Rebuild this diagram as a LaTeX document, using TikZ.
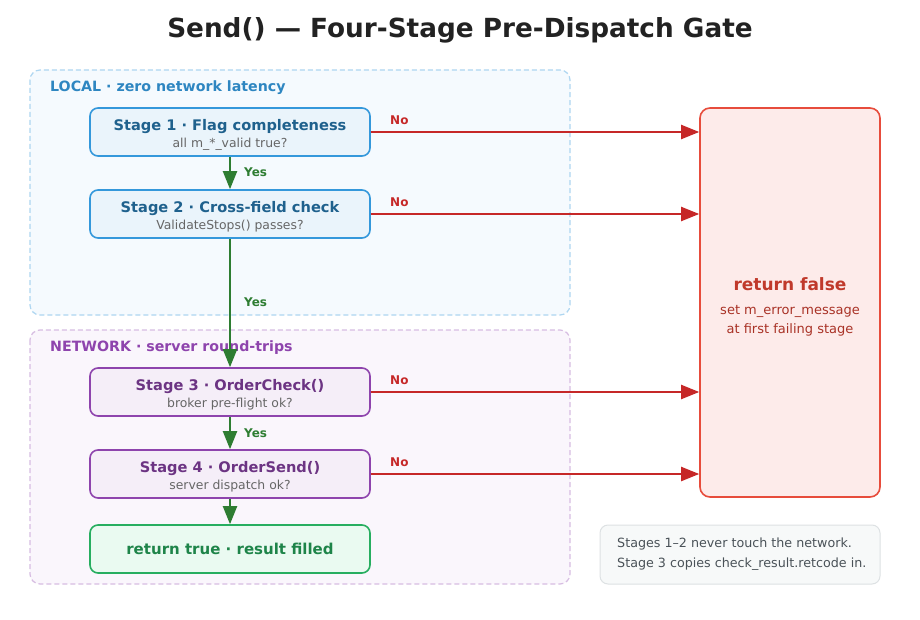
\documentclass[tikz,border=0pt]{standalone}
\usepackage{fontspec}
\setmainfont{DejaVu Sans}
\usetikzlibrary{arrows.meta}
\definecolor{lgborder}{HTML}{AED6F1}
\definecolor{lgfill}{HTML}{F5FAFE}
\definecolor{ngborder}{HTML}{D7BDE2}
\definecolor{ngfill}{HTML}{FAF6FC}
\definecolor{bluestroke}{HTML}{3498DB}
\definecolor{bluefill}{HTML}{EAF4FB}
\definecolor{bluetext}{HTML}{1F618D}
\definecolor{bluelabel}{HTML}{2E86C1}
\definecolor{purstroke}{HTML}{8E44AD}
\definecolor{purfill}{HTML}{F5EEF8}
\definecolor{purtext}{HTML}{6C3483}
\definecolor{greenstroke}{HTML}{27AE60}
\definecolor{greenfill}{HTML}{EAFAF1}
\definecolor{greentext}{HTML}{1E8449}
\definecolor{redstroke}{HTML}{E74C3C}
\definecolor{redfill}{HTML}{FDEBEA}
\definecolor{redtext}{HTML}{C0392B}
\definecolor{redsub}{HTML}{A93226}
\definecolor{arrred}{HTML}{C62828}
\definecolor{arrgreen}{HTML}{2E7D32}
\definecolor{subgray}{HTML}{666666}
\definecolor{notefill}{HTML}{F7F9F9}
\definecolor{noteborder}{HTML}{DDE1E3}
\definecolor{notetext}{HTML}{4A5258}
\definecolor{titlecol}{HTML}{222222}
\newcommand{\fs}[1]{\fontsize{#1}{#1}\selectfont}
\tikzset{
  group/.style={draw, dashed, dash pattern=on 5pt off 3pt, line width=1.2pt, rounded corners=10pt},
  stagebox/.style={draw, line width=1.6pt, rounded corners=8pt, minimum width=280pt, minimum height=48pt, inner sep=0pt, align=center},
  yesarrow/.style={draw=arrgreen, line width=2pt, -{Triangle[length=18pt,width=14pt]}},
  noarrow/.style={draw=arrred, line width=2pt, -{Triangle[length=18pt,width=14pt]}},
  yeslabel/.style={text=arrgreen, font=\bfseries\fs{12}, anchor=west, inner sep=0pt},
  nolabel/.style={text=arrred, font=\bfseries\fs{12}, anchor=west, inner sep=0pt},
  stitle/.style={font=\bfseries\fs{14.6}},
  ssub/.style={font=\fs{12.4}, text=subgray},
}
\begin{document}
\begin{tikzpicture}[x=1pt,y=-1pt]
\useasboundingbox (0,0) rectangle (920,620);
\fill[white] (0,0) rectangle (920,620);
\node[font=\bfseries\fs{26.3}, text=titlecol] (title) at (460,30.5) {Send() — Four-Stage Pre-Dispatch Gate};
% groups
\draw[group, draw=lgborder, fill=lgfill] (30,70) rectangle (570,315);
\draw[group, draw=ngborder, fill=ngfill] (30,330) rectangle (570,584);
\node[anchor=west, inner sep=0pt, font=\bfseries\fs{14.2}, text=bluelabel] (lgl) at (50,88) {LOCAL · zero network latency};
\node[anchor=west, inner sep=0pt, font=\bfseries\fs{14.2}, text=purstroke] (ngl) at (50,348) {NETWORK · server round-trips};
% stages
\node[stagebox, draw=bluestroke, fill=bluefill] (s1) at (230,132) {};
\node[stitle, text=bluetext] at (230,126.5) {Stage 1 · Flag completeness};
\node[ssub] at (230,144.5) {all m\_*\_valid true?};
\node[stagebox, draw=bluestroke, fill=bluefill] (s2) at (230,214) {};
\node[stitle, text=bluetext] at (230,208.5) {Stage 2 · Cross-field check};
\node[ssub] at (230,226.5) {ValidateStops() passes?};
\node[stagebox, draw=purstroke, fill=purfill] (s3) at (230,392) {};
\node[stitle, text=purtext] at (230,386.5) {Stage 3 · OrderCheck()};
\node[ssub] at (230,404.5) {broker pre-flight ok?};
\node[stagebox, draw=purstroke, fill=purfill] (s4) at (230,474) {};
\node[stitle, text=purtext] at (230,468.5) {Stage 4 · OrderSend()};
\node[ssub] at (230,486.5) {server dispatch ok?};
\node[stagebox, draw=greenstroke, fill=greenfill, font=\bfseries\fs{15}, text=greentext] (ok) at (230,549) {return true · result filled};
% return false
\node[draw=redstroke, fill=redfill, line width=1.6pt, rounded corners=10pt, minimum width=180pt, minimum height=389pt, inner sep=0pt] (fail) at (790,302.5) {};
\node[font=\bfseries\fs{17}, text=redtext] at (790,284.5) {return false};
\node[font=\fs{13}, text=redsub, inner sep=0pt] at (790,311.5) {set m\_error\_message};
\node[font=\fs{13}, text=redsub, inner sep=0pt] at (790,329.5) {at first failing stage};
% note
\node[draw=noteborder, fill=notefill, line width=1pt, rounded corners=8pt, minimum width=280pt, minimum height=59pt, inner sep=0pt] (note) at (740,554.5) {};
\node[anchor=west, font=\fs{12.7}, text=notetext, inner sep=0pt] at (617,544) {Stages 1–2 never touch the network.};
\node[anchor=west, font=\fs{12.7}, text=notetext, inner sep=0pt] at (617,564) {Stage 3 copies check\_result.retcode in.};
% green arrows
\draw[yesarrow] (s1.south) -- (s2.north);
\node[yeslabel] at (244,172) {Yes};
\draw[yesarrow] (s2.south) -- (s3.north);
\node[yeslabel] at (244,302) {Yes};
\draw[yesarrow] (s3.south) -- (s4.north);
\node[yeslabel] at (244,433) {Yes};
\draw[yesarrow] (s4.south) -- (ok.north);
% red arrows
\draw[noarrow] (s1.east) -- (s1.east -| fail.west);
\node[nolabel] at (390,120) {No};
\draw[noarrow] (s2.east) -- (s2.east -| fail.west);
\node[nolabel] at (390,202) {No};
\draw[noarrow] (s3.east) -- (s3.east -| fail.west);
\node[nolabel] at (390,380) {No};
\draw[noarrow] (s4.east) -- (s4.east -| fail.west);
\node[nolabel] at (390,462) {No};
\end{tikzpicture}
\end{document}
